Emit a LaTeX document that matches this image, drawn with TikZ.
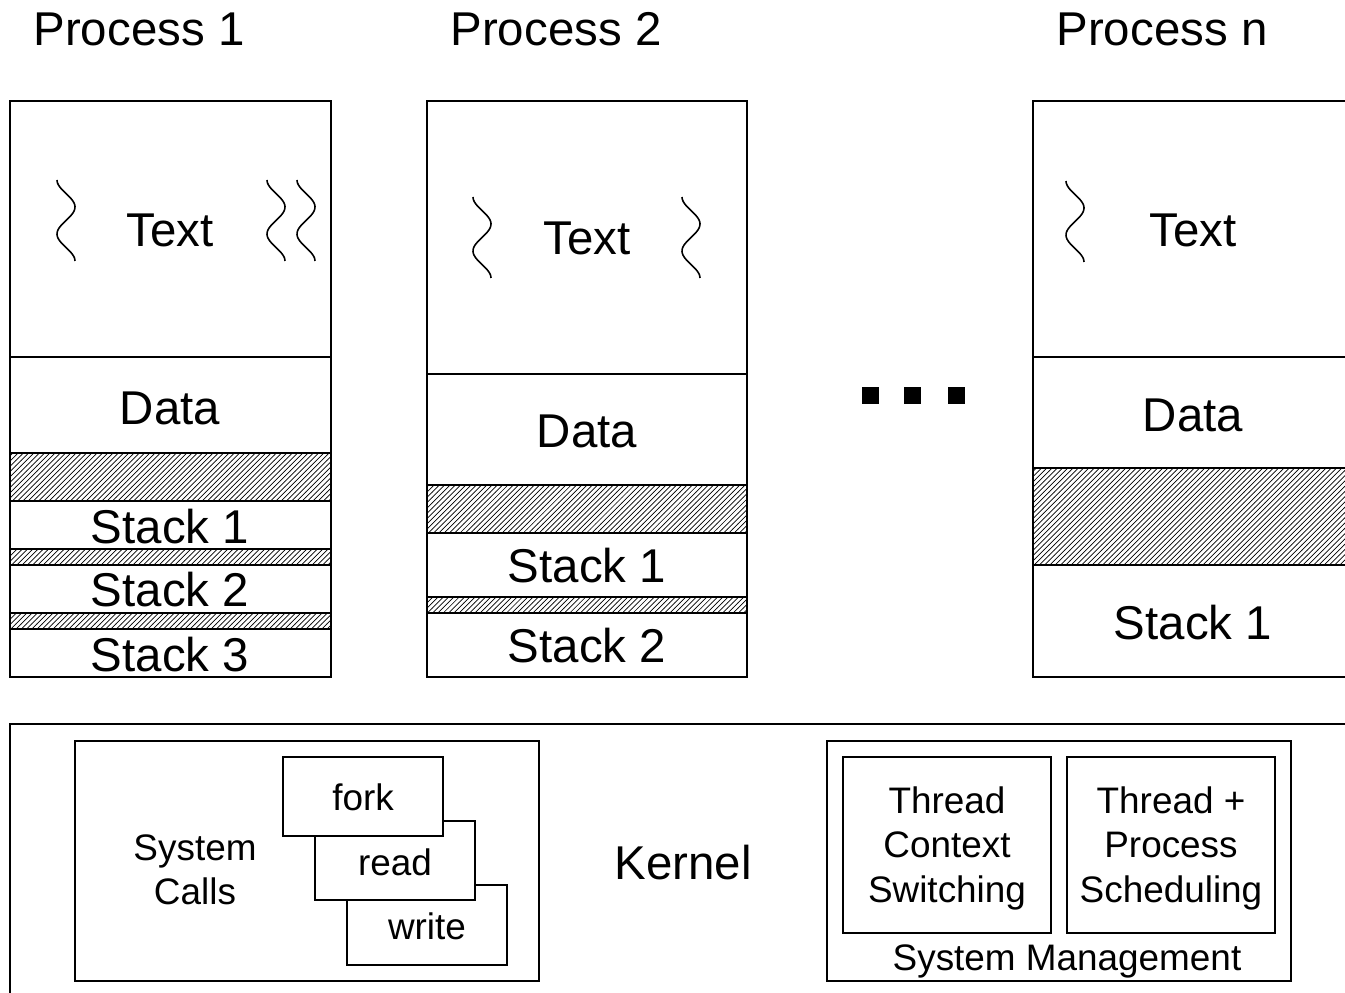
\documentclass[tikz,border=0pt]{standalone}
\usepackage{fontspec}
\setmainfont{Liberation Sans}
\usetikzlibrary{patterns}
\tikzset{
	seg/.style={line width=1.4pt},
	gap/.style={line width=1.4pt, pattern=north east lines},
	big/.style={font=\fontsize{27}{32}\selectfont, anchor=base},
	small/.style={font=\fontsize{21}{25.3}\selectfont, align=center},
	call/.style={font=\fontsize{21}{25.3}\selectfont, anchor=base},
}
\newcommand{\thrd}[2]{\draw[line width=0.9pt] plot[domain=0:3, samples=50, smooth] ({#1-9*cos(\x*180)}, {#2+\x*27});}

\begin{document}
\begin{tikzpicture}[x=0.02cm, y=-0.02cm]
	\useasboundingbox (0,0) rectangle (1345,993);
	\clip (0,0) rectangle (1345,993);
	\node[big] (title1) at (139,46) {Process 1};
	\node[big] (title2) at (556,46) {Process 2};
	\node[big] (titlen) at (1162,46) {Process n};

	\draw[seg] (10,101) rectangle (331,357);
	\draw[seg] (10,357) rectangle (331,453);
	\draw[gap] (10,453) rectangle (331,501);
	\draw[seg] (10,501) rectangle (331,549);
	\draw[gap] (10,549) rectangle (331,565);
	\draw[seg] (10,565) rectangle (331,613);
	\draw[gap] (10,613) rectangle (331,629);
	\draw[seg] (10,629) rectangle (331,677);
	\node[big] (p1text) at (170,247) {Text};
	\node[big] (p1data) at (170,424) {Data};
	\node[big] (p1stack1) at (170,543) {Stack 1};
	\node[big] (p1stack2) at (170,606) {Stack 2};
	\node[big] (p1stack3) at (170,671) {Stack 3};
	\thrd{66}{180}
	\thrd{276}{180}
	\thrd{306}{180}

	\draw[seg] (427,101) rectangle (747,374);
	\draw[seg] (427,374) rectangle (747,485);
	\draw[gap] (427,485) rectangle (747,533);
	\draw[seg] (427,533) rectangle (747,597);
	\draw[gap] (427,597) rectangle (747,613);
	\draw[seg] (427,613) rectangle (747,677);
	\node[big] (p2text) at (587,255) {Text};
	\node[big] (p2data) at (587,447) {Data};
	\node[big] (p2stack1) at (587,582) {Stack 1};
	\node[big] (p2stack2) at (587,662) {Stack 2};
	\thrd{482}{197}
	\thrd{691}{197}

	\foreach \d in {870,912,956}
		\fill (\d-8.5,387) rectangle (\d+8.5,404);

	\draw[seg] (1033,101) rectangle (1400,357);
	\draw[seg] (1033,357) rectangle (1400,468);
	\draw[gap] (1033,468) rectangle (1400,565);
	\draw[seg] (1033,565) rectangle (1400,677);
	\node[big] (pntext) at (1193,247) {Text};
	\node[big] (pndata) at (1193,431) {Data};
	\node[big] (pnstack1) at (1193,639) {Stack 1};
	\thrd{1075}{181}

	\draw[seg] (10,724) rectangle (1400,1050);
	\node[big] (kernel) at (683,879) {Kernel};

	\draw[seg] (75,741) rectangle (539,981);
	\node[small] (syscalls) at (195,870) {System\\Calls};
	\draw[seg, fill=white] (347,885) rectangle (507,965);
	\node[call] (write) at (427,939) {write};
	\draw[seg, fill=white] (315,821) rectangle (475,900);
	\node[call] (read) at (395,875) {read};
	\draw[seg, fill=white] (283,757) rectangle (443,836);
	\node[call] (fork) at (363,810) {fork};

	\draw[seg] (827,741) rectangle (1291,981);
	\draw[seg] (843,757) rectangle (1051,933);
	\draw[seg] (1067,757) rectangle (1275,933);
	\node[small] (ctxswitch) at (947,848) {Thread\\Context\\Switching};
	\node[small] (sched) at (1171,848) {Thread +\\Process\\Scheduling};
	\node[small] (sysmgmt) at (1067,961) {System Management};
\end{tikzpicture}
\end{document}
